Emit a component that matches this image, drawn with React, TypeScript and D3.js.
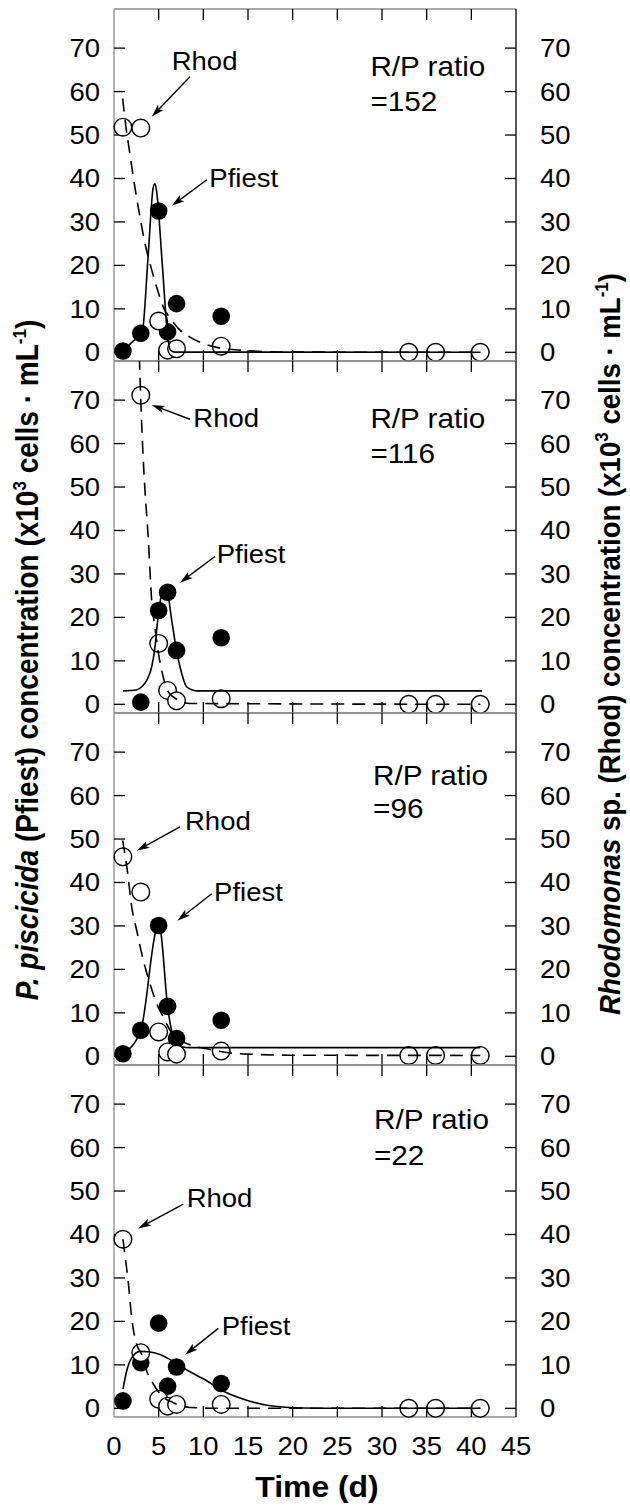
import React from "react";
import * as d3 from "d3";

// ---------- data ----------
const xTicks = [0, 5, 10, 15, 20, 25, 30, 35, 40, 45];
const yTicks = [0, 10, 20, 30, 40, 50, 60, 70];

const rhodDaysFull = [1, 3, 5, 6, 7, 12, 33, 36, 41];
const rhodDaysP2 = [3, 5, 6, 7, 12, 33, 36, 41];
const pfiestDaysFull = [1, 3, 5, 6, 7, 12];
const pfiestDaysP2 = [3, 5, 6, 7, 12];

const p1Rhod = [51.8, 51.6, 7.2, 0.5, 0.8, 1.4, 0, 0, 0];
const p1Pfiest = [0.3, 4.4, 32.5, 4.7, 11.2, 8.3];
const p2Rhod = [71.1, 14.0, 3.2, 0.8, 1.3, 0, 0, 0];
const p2Pfiest = [0.5, 21.6, 25.8, 12.4, 15.3];
const p3Rhod = [45.9, 37.8, 5.6, 1.0, 0.5, 1.2, 0.2, 0.2, 0.2];
const p3Pfiest = [0.6, 6.0, 30.1, 11.5, 4.1, 8.3];
const p4Rhod = [38.9, 12.8, 2.1, 0.5, 0.9, 0.9, 0, 0, 0];
const p4Pfiest = [1.7, 10.5, 19.6, 5.1, 9.5, 5.7];

// fitted curves as [day, value]
const p1RhodFit = [[0.97, 58.4], [1.34, 51.8], [1.72, 46.5], [2.16, 40.3], [2.91, 31.1], [3.47, 25.0], [4.03, 20.4], [4.78, 15.0], [5.52, 10.4], [6.46, 7.4], [7.39, 5.1], [8.5, 3.5], [10, 2.0], [12.2, 0.85], [14.5, 0.46], [19, 0.05], [41, 0]];
const p1PfiestFit = [[1, 0.3], [2, 2.3], [3, 4.3], [3.2, 5.1], [3.8, 21.5], [4.4, 38], [4.59, 38.8], [4.78, 36.9], [5.4, 20.4], [6.0, 3.9], [6.3, 0.5], [6.8, 0.05], [41, 0]];
const p2RhodFit = [[2.84, 80], [2.98, 71], [3.17, 61], [3.36, 53], [3.84, 38], [4.22, 23.9], [4.59, 17.5], [4.96, 11.9], [5.34, 7.8], [5.9, 3.6], [6.64, 1.7], [8.5, 0.2], [41, 0]];
const p2PfiestFit = [[1, 3.1], [2.5, 3.3], [3.2, 4.2], [3.66, 5.5], [4.22, 8.6], [4.59, 13.2], [4.89, 19.3], [5.2, 24], [5.6, 26.5], [6.0, 25.5], [6.46, 19.3], [7, 12.4], [7.58, 7.1], [8.14, 4.0], [9.26, 3.1], [41.2, 3.1]];
const p3RhodFit = [[0.97, 49.7], [1.49, 42.8], [1.98, 34.4], [2.54, 29.0], [3.28, 22.1], [4.03, 16.7], [4.78, 12.1], [5.52, 9.0], [6.27, 6.0], [7.39, 3.7], [8.7, 2.5], [10.2, 1.8], [13, 0.77], [15.6, 0.46], [20, 0.25], [41, 0.2]];
const p3PfiestFit = [[1, 0.6], [3, 6.0], [4.78, 29.5], [5.0, 30.2], [5.2, 29], [6.0, 11.5], [6.5, 5.5], [7.0, 3.6], [7.6, 2.2], [8.5, 2.0], [41, 2.0]];
const p4RhodFit = [[1, 38.9], [1.23, 35.2], [1.6, 29.0], [1.98, 20.8], [2.54, 14.7], [3.1, 12.4], [3.66, 8.6], [4.4, 5.6], [5.34, 2.9], [6.64, 1.3], [8.5, 0.2], [12, 0], [41, 0]];
const p4PfiestFit = [[1, 4.4], [1.42, 8.6], [1.98, 11.6], [2.9, 13.1], [3.84, 13.0], [5.15, 12.4], [7.02, 10.3], [8.5, 8.4], [10, 6.8], [12.2, 4.0], [14.5, 2.1], [17.5, 0.6], [21.2, 0.08], [25, 0], [41, 0]];

const ratioLabels = ["=152", "=116", "=96", "=22"];

// annotation anchors in data units: [textDay, textValue, fromDay, fromValue, toDay, toValue]
const rhodNotes = [
  [6.46, 65, 8.5, 63.4, 4.22, 54.2],
  [8.88, 63.9, 8.5, 65.6, 4.22, 68.9],
  [7.95, 52.1, 7.39, 52.8, 2.54, 47.3],
  [8.13, 46.3, 7.76, 47.0, 2.72, 41.4],
];
const pfiestNotes = [
  [10.67, 38.1, 10.4, 39.7, 6.46, 33.7],
  [11.5, 32.5, 11.3, 34.0, 7.39, 28.0],
  [11.2, 35.8, 10.94, 37.4, 7.09, 31.2],
  [12.06, 16.9, 11.68, 18.4, 7.95, 12.3],
];
const ratioPos = [[28.7, 63.6, 55.5], [28.7, 63.6, 55.5], [29.0, 62.4, 54.8], [29.1, 64.2, 56.0]];

const panels = [
  { rhodDays: rhodDaysFull, rhod: p1Rhod, pfDays: pfiestDaysFull, pf: p1Pfiest, rhodFit: p1RhodFit, pfFit: p1PfiestFit },
  { rhodDays: rhodDaysP2, rhod: p2Rhod, pfDays: pfiestDaysP2, pf: p2Pfiest, rhodFit: p2RhodFit, pfFit: p2PfiestFit },
  { rhodDays: rhodDaysFull, rhod: p3Rhod, pfDays: pfiestDaysFull, pf: p3Pfiest, rhodFit: p3RhodFit, pfFit: p3PfiestFit },
  { rhodDays: rhodDaysFull, rhod: p4Rhod, pfDays: pfiestDaysFull, pf: p4Pfiest, rhodFit: p4RhodFit, pfFit: p4PfiestFit },
];

// ---------- layout ----------
const W = 630;
const H = 1507;
const LEFT = 114;
const RIGHT = 516;
const TOP = 9;
const PH = 352;
const FONT = "'Liberation Sans', Arial, Helvetica, sans-serif";
const FRAME = "#8c8c8c";
const TICK = 11;
const R = 8.8;

const x = d3.scaleLinear().domain([0, 45]).range([LEFT, RIGHT]);

function T({ x: tx, y: ty, anchor = "start", size = 25, weight = "normal", children }: any) {
  return (
    <text
      transform={`translate(${tx},${ty}) scale(1.1,1)`}
      textAnchor={anchor}
      fontSize={size}
      fontWeight={weight}
      fontFamily={FONT}
      fill="#000"
    >
      {children}
    </text>
  );
}

function Arrow({ x1, y1, x2, y2 }: any) {
  const a = Math.atan2(y2 - y1, x2 - x1);
  const L = 13;
  const hw = 3.8;
  const bx = x2 - L * Math.cos(a);
  const by = y2 - L * Math.sin(a);
  const px = -Math.sin(a) * hw;
  const py = Math.cos(a) * hw;
  const nx = x2 - (L - 3) * Math.cos(a);
  const ny = y2 - (L - 3) * Math.sin(a);
  return (
    <g>
      <line x1={x1} y1={y1} x2={nx} y2={ny} stroke="#000" strokeWidth={1.4} />
      <path d={`M${x2},${y2}L${bx + px},${by + py}L${nx},${ny}L${bx - px},${by - py}Z`} fill="#000" />
    </g>
  );
}

function Panel({ i, p }: any) {
  const top = TOP + i * PH;
  const bottom = top + PH;
  const y = d3.scaleLinear().domain([-2, 79]).range([bottom, top]);
  const line = d3
    .line<number[]>()
    .x((d) => x(d[0]))
    .y((d) => y(d[1]))
    .curve(d3.curveMonotoneX);
  const clipId = `clip${i}`;
  const rn = rhodNotes[i];
  const pn = pfiestNotes[i];
  const rp = ratioPos[i];
  return (
    <g>
      <defs>
        <clipPath id={clipId}>
          <rect x={LEFT} y={top} width={RIGHT - LEFT} height={PH} />
        </clipPath>
      </defs>
      {/* frame */}
      <line x1={LEFT} y1={top} x2={RIGHT} y2={top} stroke={FRAME} strokeWidth={1.3} />
      <line x1={LEFT} y1={bottom} x2={RIGHT} y2={bottom} stroke={FRAME} strokeWidth={1.3} />
      <line x1={LEFT} y1={top} x2={LEFT} y2={bottom} stroke={FRAME} strokeWidth={1.3} />
      <line x1={RIGHT} y1={top} x2={RIGHT} y2={bottom} stroke="#000" strokeWidth={1.3} />
      {/* x ticks */}
      {xTicks.slice(1, -1).map((t) => (
        <g key={`xt${t}`}>
          <line x1={x(t)} x2={x(t)} y1={top} y2={top + TICK} stroke="#000" strokeWidth={1.3} />
          <line x1={x(t)} x2={x(t)} y1={bottom} y2={bottom - TICK} stroke="#000" strokeWidth={1.3} />
        </g>
      ))}
      {/* y ticks and labels */}
      {yTicks.map((t) => (
        <g key={`yt${t}`}>
          <line x1={LEFT} x2={LEFT + TICK} y1={y(t)} y2={y(t)} stroke="#000" strokeWidth={1.3} />
          <line x1={RIGHT} x2={RIGHT - TICK} y1={y(t)} y2={y(t)} stroke="#000" strokeWidth={1.3} />
          <T x={100} y={y(t) + 9} anchor="end">{t}</T>
          <T x={540} y={y(t) + 9}>{t}</T>
        </g>
      ))}
      {/* points */}
      <g>
        {p.pf.map((v: number, k: number) => (
          <circle key={`pf${k}`} cx={x(p.pfDays[k])} cy={y(v)} r={R} fill="#000" />
        ))}
        {p.rhod.map((v: number, k: number) => (
          <circle key={`rh${k}`} cx={x(p.rhodDays[k])} cy={y(v)} r={R} fill="#fff" stroke="#000" strokeWidth={1.4} />
        ))}
      </g>
      {/* fitted curves */}
      <g clipPath={`url(#${clipId})`}>
        <path d={line(p.rhodFit) || ""} fill="none" stroke="#000" strokeWidth={1.6} strokeDasharray="13,8" />
        <path d={line(p.pfFit) || ""} fill="none" stroke="#000" strokeWidth={1.6} />
      </g>
      {/* annotations */}
      <T x={x(rn[0])} y={y(rn[1])}>Rhod</T>
      <Arrow x1={x(rn[2])} y1={y(rn[3])} x2={x(rn[4])} y2={y(rn[5])} />
      <T x={x(pn[0])} y={y(pn[1])}>Pfiest</T>
      <Arrow x1={x(pn[2])} y1={y(pn[3])} x2={x(pn[4])} y2={y(pn[5])} />
      <T x={x(rp[0])} y={y(rp[1])} size={27}>R/P ratio</T>
      <T x={x(rp[0])} y={y(rp[2])} size={27}>{ratioLabels[i]}</T>
    </g>
  );
}

export default function App() {
  const bottom = TOP + 4 * PH;
  return (
    <svg
      width={W}
      height={H}
      viewBox={`0 0 ${W} ${H}`}
      style={{ position: "absolute", left: 0, top: 0, background: "#fff" }}
    >
      <rect x={0} y={0} width={W} height={H} fill="#fff" />
      {panels.map((p, i) => (
        <Panel key={i} i={i} p={p} />
      ))}
      {xTicks.map((t) => (
        <T key={`xl${t}`} x={x(t)} y={bottom + 38} anchor="middle">{t}</T>
      ))}
      <T x={(LEFT + RIGHT) / 2 + 2} y={1497} anchor="middle" size={29} weight="bold">Time (d)</T>
      <text
        transform="translate(38,660) rotate(-90) scale(1,1.1)"
        textAnchor="middle"
        fontSize={28}
        fontWeight="bold"
        fontFamily={FONT}
      >
        <tspan fontStyle="italic">P. piscicida</tspan>
        <tspan> (Pfiest) concentration (x10</tspan>
        <tspan dy={-11} fontSize={17}>3</tspan>
        <tspan dy={11}> cells · mL</tspan>
        <tspan dy={-11} fontSize={17}>-1</tspan>
        <tspan dy={11}>)</tspan>
      </text>
      <text
        transform="translate(620,644) rotate(-90) scale(1,1.1)"
        textAnchor="middle"
        fontSize={27.6}
        fontWeight="bold"
        fontFamily={FONT}
      >
        <tspan fontStyle="italic">Rhodomonas</tspan>
        <tspan> sp. (Rhod) concentration (x10</tspan>
        <tspan dy={-11} fontSize={17}>3</tspan>
        <tspan dy={11}> cells · mL</tspan>
        <tspan dy={-11} fontSize={17}>-1</tspan>
        <tspan dy={11}>)</tspan>
      </text>
    </svg>
  );
}
